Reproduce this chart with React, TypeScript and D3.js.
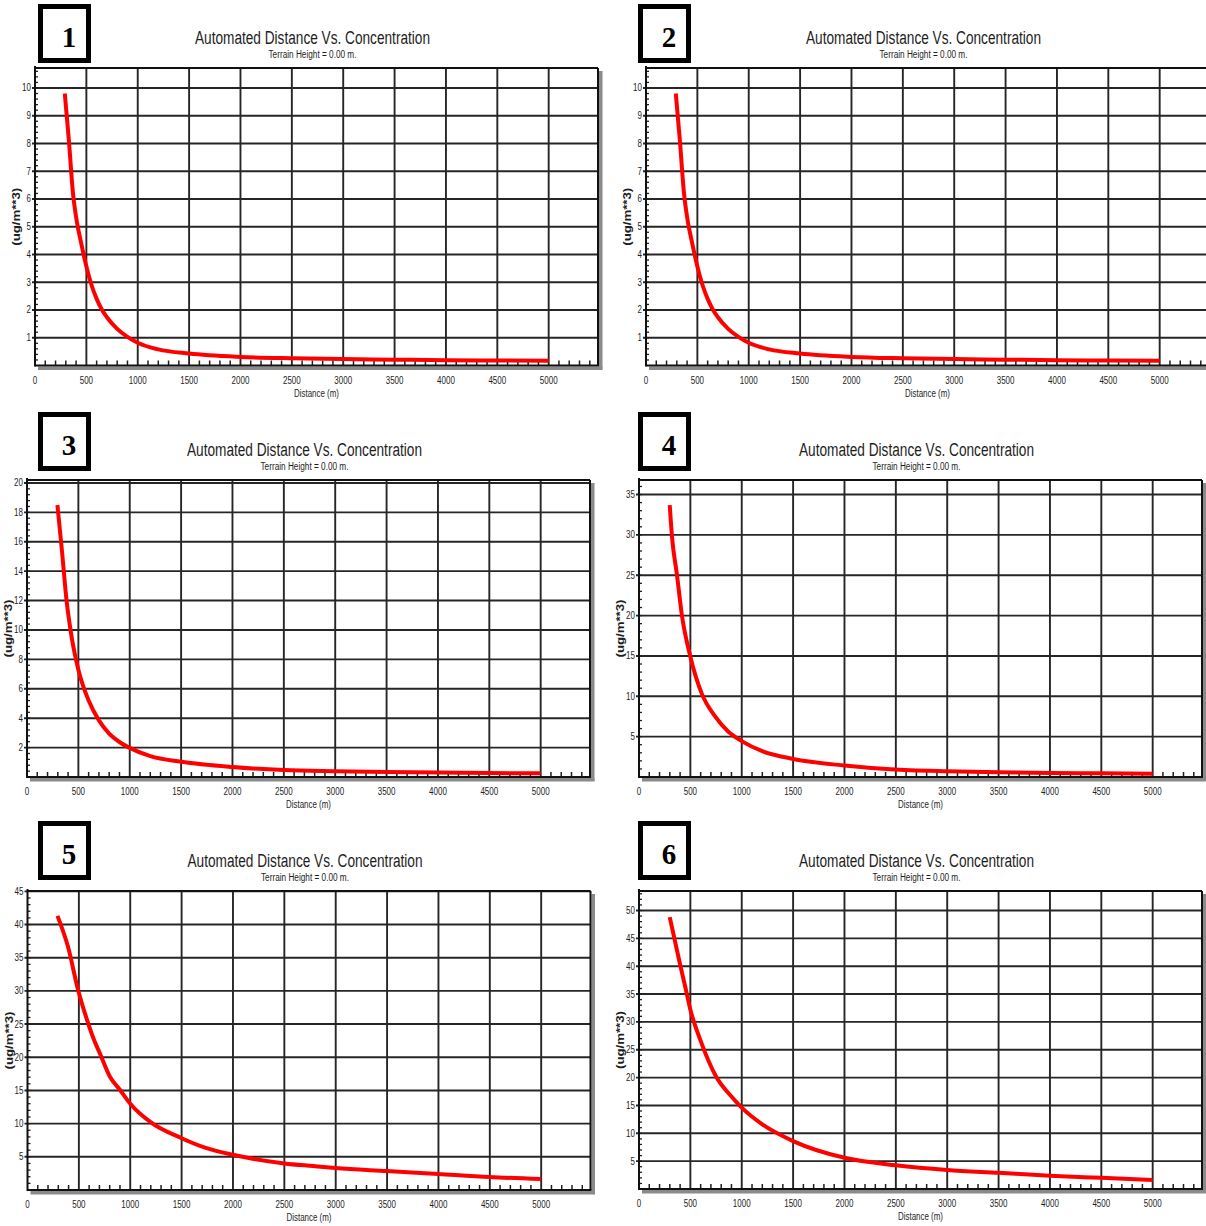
import React from 'react';
import * as d3 from 'd3';

// Concentration (ug/m**3) against downwind distance (m) for each run
const run1Distance = [290, 330, 370, 400, 450, 500, 550, 600, 650, 700, 800, 900, 1000, 1200, 1500, 2000, 2500, 3000, 3500, 4000, 4500, 5000];
const run1Concentration = [9.8, 8.1, 6.2, 5.35, 4.4, 3.57, 2.9, 2.4, 2.02, 1.74, 1.32, 1.03, 0.82, 0.58, 0.43, 0.31, 0.26, 0.23, 0.21, 0.19, 0.18, 0.17];

const run2Distance = [290, 330, 370, 400, 450, 500, 550, 600, 650, 700, 800, 900, 1000, 1200, 1500, 2000, 2500, 3000, 3500, 4000, 4500, 5000];
const run2Concentration = [9.8, 8.1, 6.2, 5.35, 4.4, 3.57, 2.9, 2.4, 2.02, 1.74, 1.32, 1.03, 0.82, 0.58, 0.43, 0.31, 0.26, 0.23, 0.21, 0.19, 0.18, 0.17];

const run3Distance = [296, 340, 385, 435, 500, 600, 700, 800, 900, 1000, 1200, 1500, 2000, 2500, 3000, 3500, 4000, 4500, 5000];
const run3Concentration = [18.5, 15.4, 12.0, 9.5, 7.3, 5.2, 3.85, 2.95, 2.38, 1.98, 1.42, 1.04, 0.68, 0.47, 0.39, 0.34, 0.3, 0.27, 0.25];

const run4Distance = [299, 321, 370, 418, 500, 612, 741, 870, 1000, 1200, 1500, 2000, 2450, 3000, 3500, 4000, 4500, 5000];
const run4Concentration = [33.7, 29.8, 25.0, 20.0, 14.9, 10.3, 7.5, 5.6, 4.45, 3.2, 2.24, 1.42, 0.95, 0.7, 0.58, 0.5, 0.45, 0.4];

const run5Distance = [292, 395, 493, 580, 648, 704, 801, 899, 1000, 1191, 1500, 1743, 2000, 2500, 2780, 3000, 3500, 4000, 4500, 5000];
const run5Concentration = [41.3, 36.6, 30.1, 25.6, 22.6, 20.6, 17.1, 15.1, 13.0, 10.3, 7.8, 6.3, 5.3, 4.0, 3.6, 3.3, 2.85, 2.4, 1.95, 1.65];

const run6Distance = [299, 400, 450, 500, 600, 750, 900, 1000, 1200, 1500, 2000, 2500, 3000, 3500, 4000, 4500, 5000];
const run6Concentration = [48.8, 40.3, 36.3, 32.2, 26.6, 20.2, 16.6, 14.6, 11.6, 8.6, 5.6, 4.25, 3.4, 2.9, 2.4, 2.0, 1.6];

// Axis ticks
const xTickValues = [0, 500, 1000, 1500, 2000, 2500, 3000, 3500, 4000, 4500, 5000];
const xMinorStep = 100;
const xDomainMax = 5480;

const run1YTicks = [1, 2, 3, 4, 5, 6, 7, 8, 9, 10];
const run2YTicks = [1, 2, 3, 4, 5, 6, 7, 8, 9, 10];
const run3YTicks = [2, 4, 6, 8, 10, 12, 14, 16, 18, 20];
const run4YTicks = [5, 10, 15, 20, 25, 30, 35];
const run5YTicks = [5, 10, 15, 20, 25, 30, 35, 40, 45];
const run6YTicks = [5, 10, 15, 20, 25, 30, 35, 40, 45, 50];

const yAxisMax = [10.72, 10.72, 20.2, 36.8, 45.05, 53.5];

const panelNumbers = ['1', '2', '3', '4', '5', '6'];
const titleText = 'Automated Distance Vs. Concentration';
const subtitleText = 'Terrain Height = 0.00 m.';
const xAxisTitle = 'Distance (m)';
const yAxisTitle = '(ug/m**3)';

type Layout = { left: number; top: number; bottom: number; boxX: number; boxY: number };

const PLOT_WIDTH = 563;

const layouts: Layout[] = [
  { left: 35, top: 68, bottom: 365.5, boxX: 38, boxY: 4 },
  { left: 646, top: 68, bottom: 365.5, boxX: 638, boxY: 4 },
  { left: 27, top: 480, bottom: 777, boxX: 38, boxY: 412 },
  { left: 639, top: 480, bottom: 777, boxX: 638, boxY: 412 },
  { left: 27.5, top: 891, bottom: 1190, boxX: 38, boxY: 821 },
  { left: 639, top: 891, bottom: 1189, boxX: 638, boxY: 821 },
];

const runs = [
  { distance: run1Distance, concentration: run1Concentration, yTicks: run1YTicks },
  { distance: run2Distance, concentration: run2Concentration, yTicks: run2YTicks },
  { distance: run3Distance, concentration: run3Concentration, yTicks: run3YTicks },
  { distance: run4Distance, concentration: run4Concentration, yTicks: run4YTicks },
  { distance: run5Distance, concentration: run5Concentration, yTicks: run5YTicks },
  { distance: run6Distance, concentration: run6Concentration, yTicks: run6YTicks },
];

const SANS = '"Liberation Sans", Arial, sans-serif';
const SERIF = '"Liberation Serif", "Times New Roman", serif';
const INK = '#1e1e1e';
const GRID = '#262626';
const SHADOW = '#8a8a8a';

function NarrowText(props: {
  x: number; y: number; size: number; anchor?: string; sx?: number; weight?: string | number; children: React.ReactNode;
}) {
  const { x, y, size, anchor = 'middle', sx = 0.8, weight = 'normal', children } = props;
  return (
    <text
      transform={`translate(${x},${y}) scale(${sx},1)`}
      textAnchor={anchor as any}
      fontSize={size}
      fontFamily={SANS}
      fontWeight={weight as any}
      fill={INK}
    >
      {children}
    </text>
  );
}

function Panel({ index }: { index: number }) {
  const L = layouts[index];
  const run = runs[index];
  const right = L.left + PLOT_WIDTH;
  const x = d3.scaleLinear().domain([0, xDomainMax]).range([L.left, right]);
  const y = d3.scaleLinear().domain([0, yAxisMax[index]]).range([L.bottom, L.top]);

  const yStep = run.yTicks[1] - run.yTicks[0];
  const yMinor = d3.range(yStep / 5, yAxisMax[index] + 1e-9, yStep / 5);
  const xMinor = d3.range(xMinorStep, xDomainMax, xMinorStep).filter((v) => v % 500 !== 0);

  const points = run.distance.map((d, i) => [d, run.concentration[i]] as [number, number]);
  const line = d3
    .line<[number, number]>()
    .x((p) => x(p[0]))
    .y((p) => y(p[1]))
    .curve(d3.curveMonotoneX);

  const cx = (L.left + right) / 2;

  return (
    <g>
      {/* numbered frame */}
      <rect x={L.boxX + 2.5} y={L.boxY + 2.5} width={48} height={54} fill="#fff" stroke="#000" strokeWidth={5} />
      <text
        x={L.boxX + 31}
        y={L.boxY + 43}
        textAnchor="middle"
        fontFamily={SERIF}
        fontWeight="bold"
        fontSize={29}
        fill="#000"
      >
        {panelNumbers[index]}
      </text>

      {/* titles */}
      <text
        x={cx - 4}
        y={L.top - 24}
        textAnchor="middle"
        fontFamily={SANS}
        fontSize={18}
        fill={INK}
        textLength={235}
        lengthAdjust="spacingAndGlyphs"
      >
        {titleText}
      </text>
      <text
        x={cx - 4}
        y={L.top - 10}
        textAnchor="middle"
        fontFamily={SANS}
        fontSize={10}
        fill={INK}
        textLength={88}
        lengthAdjust="spacingAndGlyphs"
      >
        {subtitleText}
      </text>

      {/* shadows */}
      <rect x={right + 1} y={L.top + 3} width={3.5} height={L.bottom - L.top + 1} fill={SHADOW} />
      <rect x={L.left + 3} y={L.bottom + 1} width={right - L.left + 1.5} height={3.5} fill={SHADOW} />

      {/* plot area */}
      <rect x={L.left} y={L.top} width={PLOT_WIDTH} height={L.bottom - L.top} fill="#fff" />

      {/* grid */}
      {xTickValues.filter((v) => v > 0).map((v) => (
        <line key={`gx${v}`} x1={x(v)} x2={x(v)} y1={L.top} y2={L.bottom} stroke={GRID} strokeWidth={1.9} />
      ))}
      {run.yTicks.map((v) => (
        <line key={`gy${v}`} x1={L.left - 3} x2={right} y1={y(v)} y2={y(v)} stroke={GRID} strokeWidth={1.9} />
      ))}

      {/* minor ticks */}
      {xMinor.map((v) => (
        <line key={`mx${v}`} x1={x(v)} x2={x(v)} y1={L.bottom} y2={L.bottom - 5} stroke={INK} strokeWidth={1.5} />
      ))}
      {yMinor.map((v) => (
        <line key={`my${v.toFixed(3)}`} x1={L.left} x2={L.left + 3} y1={y(v)} y2={y(v)} stroke={INK} strokeWidth={1.3} />
      ))}

      {/* frame */}
      <line x1={L.left} x2={right} y1={L.top} y2={L.top} stroke="#111" strokeWidth={2} />
      <line x1={right} x2={right} y1={L.top} y2={L.bottom} stroke="#111" strokeWidth={2} />
      <line x1={L.left} x2={L.left} y1={L.top - 2} y2={L.bottom + 1} stroke="#111" strokeWidth={2} />
      <line x1={L.left} x2={right + 1} y1={L.bottom} y2={L.bottom} stroke="#111" strokeWidth={2} />

      {/* concentration curve */}
      <path d={line(points) || ''} fill="none" stroke="#ff0000" strokeWidth={4} strokeLinejoin="round" />

      {/* tick labels */}
      {xTickValues.map((v) => (
        <NarrowText key={`lx${v}`} x={x(v)} y={L.bottom + 18} size={10}>
          {String(v)}
        </NarrowText>
      ))}
      {run.yTicks.map((v) => (
        <NarrowText key={`ly${v}`} x={L.left - 4} y={y(v) + 3.5} size={10} anchor="end">
          {String(v)}
        </NarrowText>
      ))}

      {/* axis titles */}
      <text
        x={cx}
        y={L.bottom + 31}
        textAnchor="middle"
        fontFamily={SANS}
        fontSize={10}
        fill={INK}
        textLength={45}
        lengthAdjust="spacingAndGlyphs"
      >
        {xAxisTitle}
      </text>
      <text
        transform={`translate(${L.left - 15},${(L.top + L.bottom) / 2}) rotate(-90)`}
        textAnchor="middle"
        fontFamily={SANS}
        fontWeight="bold"
        fontSize={10}
        fill={INK}
        textLength={58}
        lengthAdjust="spacingAndGlyphs"
      >
        {yAxisTitle}
      </text>
    </g>
  );
}

export default function App() {
  return (
    <svg
      width={1206}
      height={1226}
      viewBox="0 0 1206 1226"
      style={{ position: 'absolute', left: 0, top: 0, background: '#fff' }}
    >
      <rect width={1206} height={1226} fill="#fff" />
      {layouts.map((_, i) => (
        <Panel key={i} index={i} />
      ))}
    </svg>
  );
}
